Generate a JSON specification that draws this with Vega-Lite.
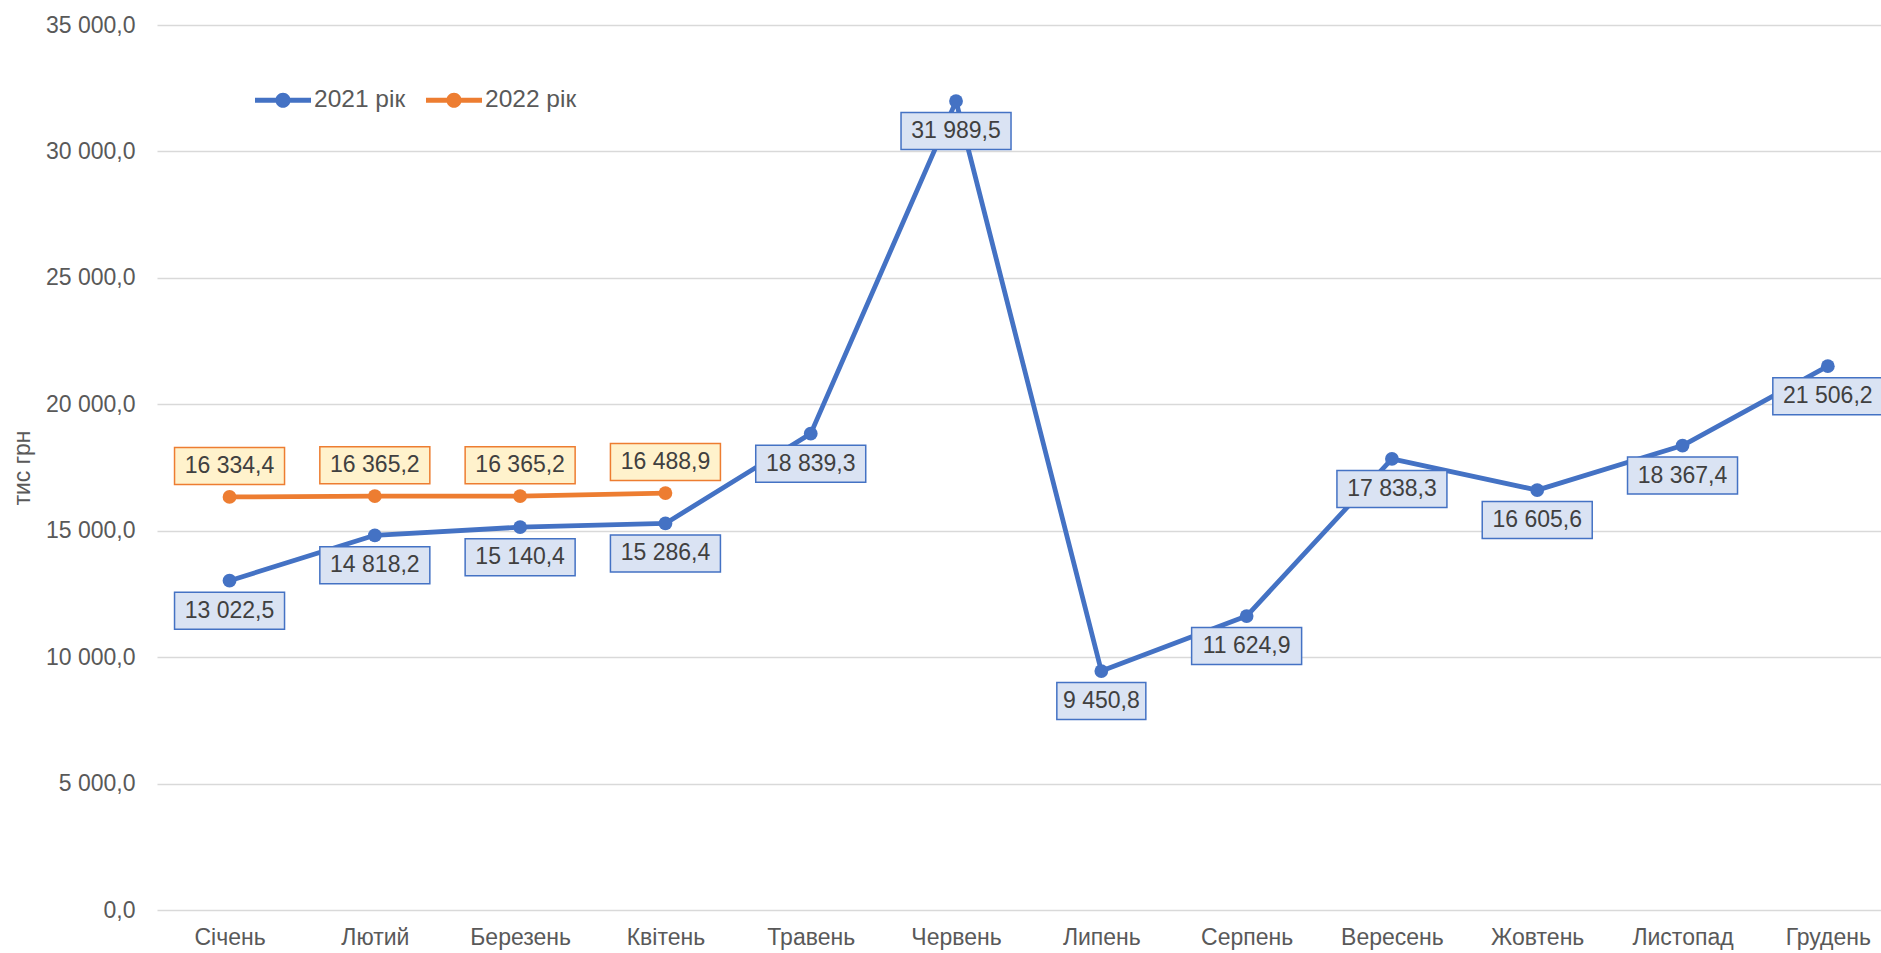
{
  "$schema": "https://vega.github.io/schema/vega-lite/v6.json",
  "width": 1724,
  "height": 885,
  "autosize": {"type": "none"},
  "padding": {"left": 157, "top": 25, "right": 0, "bottom": 43},
  "background": "white",
  "config": {
    "locale": {"number": {"decimal": ",", "thousands": " ", "grouping": [3], "currency": ["", ""]}},
    "font": "Liberation Sans",
    "view": {"stroke": null}
  },
  "data": {
    "values": [
      {"month": "Січень", "year": "2021 рік", "value": 13022.5},
      {"month": "Лютий", "year": "2021 рік", "value": 14818.2},
      {"month": "Березень", "year": "2021 рік", "value": 15140.4},
      {"month": "Квітень", "year": "2021 рік", "value": 15286.4},
      {"month": "Травень", "year": "2021 рік", "value": 18839.3},
      {"month": "Червень", "year": "2021 рік", "value": 31989.5},
      {"month": "Липень", "year": "2021 рік", "value": 9450.8},
      {"month": "Серпень", "year": "2021 рік", "value": 11624.9},
      {"month": "Вересень", "year": "2021 рік", "value": 17838.3},
      {"month": "Жовтень", "year": "2021 рік", "value": 16605.6},
      {"month": "Листопад", "year": "2021 рік", "value": 18367.4},
      {"month": "Грудень", "year": "2021 рік", "value": 21506.2},
      {"month": "Січень", "year": "2022 рік", "value": 16334.4},
      {"month": "Лютий", "year": "2022 рік", "value": 16365.2},
      {"month": "Березень", "year": "2022 рік", "value": 16365.2},
      {"month": "Квітень", "year": "2022 рік", "value": 16488.9}
    ]
  },
  "encoding": {
    "x": {
      "field": "month",
      "type": "ordinal",
      "sort": ["Січень", "Лютий", "Березень", "Квітень", "Травень", "Червень", "Липень", "Серпень", "Вересень", "Жовтень", "Листопад", "Грудень"],
      "scale": {"type": "point", "padding": 0.4326, "align": 0.577},
      "axis": {
        "title": null,
        "labelAngle": 0,
        "labelFontSize": 23,
        "labelColor": "#595959",
        "labelPadding": 16,
        "ticks": false,
        "domain": false,
        "grid": false
      }
    },
    "y": {
      "field": "value",
      "type": "quantitative",
      "scale": {"domain": [0, 35000]},
      "axis": {
        "title": "тис грн",
        "values": [0, 5000, 10000, 15000, 20000, 25000, 30000, 35000],
        "format": ",.1f",
        "labelFontSize": 23,
        "labelColor": "#595959",
        "labelPadding": 22,
        "ticks": false,
        "domain": false,
        "gridColor": "#d9d9d9",
        "gridWidth": 1.5,
        "titleFontSize": 23,
        "titleColor": "#595959",
        "titleFontWeight": "normal",
        "titlePadding": 11
      }
    }
  },
  "layer": [
    {
      "mark": {"type": "line", "strokeWidth": 4.8, "strokeCap": "round", "strokeJoin": "round"},
      "encoding": {
        "color": {
          "field": "year",
          "type": "nominal",
          "scale": {"domain": ["2021 рік", "2022 рік"], "range": ["#4472C4", "#ED7D31"]},
          "legend": {
            "title": null,
            "orient": "none",
            "direction": "horizontal",
            "legendX": 98,
            "legendY": 47,
            "padding": 0,
            "labelFontSize": 24.5,
            "labelColor": "#595959",
            "labelOffset": 3,
            "columnPadding": 20,
            "symbolSize": 3136,
            "symbolStrokeWidth": 0,
            "symbolType": "M-1,-0.085 L1,-0.085 L1,0.085 L-1,0.085 Z M-0.27,0 A0.27,0.27 0 1,1 0.27,0 A0.27,0.27 0 1,1 -0.27,0 Z",
            "encode": {
              "symbols": {
                "update": {
                  "fill": {"scale": "color", "field": "value"},
                  "stroke": {"value": "transparent"},
                  "strokeWidth": {"value": 0},
                  "opacity": {"value": 1}
                }
              }
            }
          }
        }
      }
    },
    {
      "mark": {"type": "point", "filled": true, "size": 190, "opacity": 1},
      "encoding": {
        "color": {
          "field": "year",
          "type": "nominal",
          "scale": {"domain": ["2021 рік", "2022 рік"], "range": ["#4472C4", "#ED7D31"]},
          "legend": {
            "title": null,
            "orient": "none",
            "direction": "horizontal",
            "legendX": 98,
            "legendY": 47,
            "padding": 0,
            "labelFontSize": 24.5,
            "labelColor": "#595959",
            "labelOffset": 3,
            "columnPadding": 20,
            "symbolSize": 3136,
            "symbolStrokeWidth": 0,
            "symbolType": "M-1,-0.085 L1,-0.085 L1,0.085 L-1,0.085 Z M-0.27,0 A0.27,0.27 0 1,1 0.27,0 A0.27,0.27 0 1,1 -0.27,0 Z",
            "encode": {
              "symbols": {
                "update": {
                  "fill": {"scale": "color", "field": "value"},
                  "stroke": {"value": "transparent"},
                  "strokeWidth": {"value": 0},
                  "opacity": {"value": 1}
                }
              }
            }
          }
        }
      }
    },
    {
      "transform": [{"filter": "datum.year == '2021 рік'"}],
      "mark": {"type": "point", "filled": true, "fill": "#DAE3F3", "stroke": "#4472C4", "strokeWidth": 1.5, "size": 4, "opacity": 1, "yOffset": 30},
      "encoding": {
        "shape": {
          "condition": {"test": "datum.value < 10000", "value": "M-44.5,-18.5 L44.5,-18.5 L44.5,18.5 L-44.5,18.5 Z"},
          "value": "M-55,-18.5 L55,-18.5 L55,18.5 L-55,18.5 Z"
        }
      }
    },
    {
      "transform": [{"filter": "datum.year == '2021 рік'"}],
      "mark": {"type": "text", "fontSize": 23, "color": "#404040", "yOffset": 30, "baseline": "middle", "align": "center"},
      "encoding": {
        "text": {"field": "value", "type": "quantitative", "format": ",.1f"}
      }
    },
    {
      "transform": [{"filter": "datum.year == '2022 рік'"}],
      "mark": {"type": "point", "filled": true, "fill": "#FFF2CC", "stroke": "#ED7D31", "strokeWidth": 1.5, "size": 4, "opacity": 1, "yOffset": -31, "shape": "M-55,-18.5 L55,-18.5 L55,18.5 L-55,18.5 Z"},
      "encoding": {}
    },
    {
      "transform": [{"filter": "datum.year == '2022 рік'"}],
      "mark": {"type": "text", "fontSize": 23, "color": "#404040", "yOffset": -31, "baseline": "middle", "align": "center"},
      "encoding": {
        "text": {"field": "value", "type": "quantitative", "format": ",.1f"}
      }
    }
  ]
}
